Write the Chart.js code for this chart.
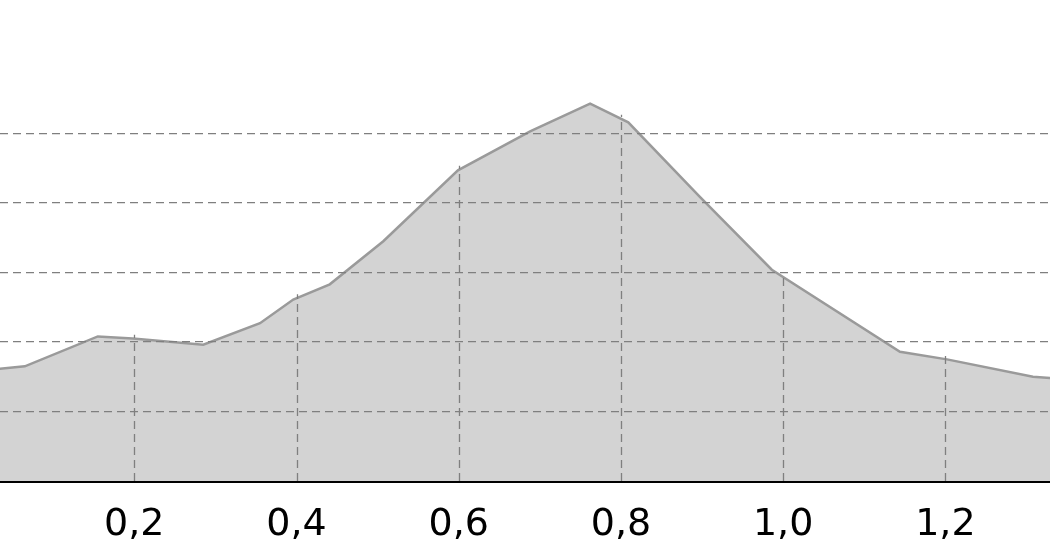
<!DOCTYPE html>
<html>
<head>
<meta charset="utf-8">
<script src="https://cdn.jsdelivr.net/npm/chart.js@4/dist/chart.umd.min.js"></script>
<style>
  body { margin: 0; background: #fff; }
  #wrap { width: 1050px; height: 560px; }
</style>
</head>
<body>
<div id="wrap"><canvas id="areaChart" width="1050" height="560"></canvas></div>
<script>
// curve
var xValues = [0.03, 0.065, 0.155, 0.198, 0.285, 0.355, 0.396, 0.441, 0.507, 0.599, 0.688, 0.762, 0.809, 0.897, 0.986, 1.144, 1.202, 1.308, 1.34];
var yValues = [1.61, 1.65, 2.08, 2.05, 1.96, 2.27, 2.61, 2.83, 3.45, 4.47, 5.03, 5.43, 5.16, 4.09, 3.04, 1.86, 1.75, 1.50, 1.47];

var xTicks = [0.2, 0.4, 0.6, 0.8, 1.0, 1.2];
var xTickLabels = ['0,2', '0,4', '0,6', '0,8', '1,0', '1,2'];
var yGridValues = [1, 2, 3, 4, 5];

var GRID_COLOR = '#7f7f7f';
var GRID_DASH = [8, 5];

// y value of the curve at x (straight segments between points)
function curveAt(x) {
  for (var i = 0; i < xValues.length - 1; i++) {
    if (x >= xValues[i] && x <= xValues[i + 1]) {
      var t = (x - xValues[i]) / (xValues[i + 1] - xValues[i]);
      return yValues[i] + t * (yValues[i + 1] - yValues[i]);
    }
  }
  return 0;
}

// vertical grid lines only run under the curve
var dropLines = {
  id: 'dropLines',
  afterDatasetsDraw: function(chart) {
    var ctx = chart.ctx;
    var xs = chart.scales.x, ys = chart.scales.y;
    ctx.save();
    ctx.strokeStyle = GRID_COLOR;
    ctx.lineWidth = 1.3;
    ctx.setLineDash(GRID_DASH);
    xTicks.forEach(function(v) {
      var px = Math.round(xs.getPixelForValue(v)) + 0.5;
      ctx.beginPath();
      ctx.moveTo(px, ys.getPixelForValue(0));
      ctx.lineTo(px, ys.getPixelForValue(curveAt(v)) - 4);
      ctx.stroke();
    });
    ctx.restore();
  }
};

var points = xValues.map(function(x, i) { return { x: x, y: yValues[i] }; });

var ctx = document.getElementById('areaChart').getContext('2d');
new Chart(ctx, {
  type: 'line',
  data: {
    datasets: [{
      data: points,
      fill: 'origin',
      backgroundColor: '#d3d3d3',
      borderColor: '#9a9a9a',
      borderWidth: 2.5,
      pointRadius: 0,
      tension: 0
    }]
  },
  options: {
    responsive: false,
    animation: false,
    layout: { padding: 0 },
    plugins: {
      legend: { display: false },
      tooltip: { enabled: false }
    },
    scales: {
      x: {
        type: 'linear',
        min: 0.0344,
        max: 1.329,
        afterBuildTicks: function(axis) {
          axis.ticks = xTicks.map(function(v) { return { value: v }; });
        },
        afterFit: function(axis) {
          axis.height = 79;
        },
        ticks: {
          autoSkip: false,
          maxRotation: 0,
          padding: 25,
          color: '#000',
          font: { family: 'DejaVu Sans', size: 38, lineHeight: 1 },
          callback: function(value) {
            var i = xTicks.indexOf(value);
            return i >= 0 ? xTickLabels[i] : '';
          }
        },
        grid: { display: false, drawTicks: false },
        border: { display: true, color: '#000', width: 3 }
      },
      y: {
        min: 0,
        max: 6.92,
        afterBuildTicks: function(axis) {
          axis.ticks = yGridValues.map(function(v) { return { value: v }; });
        },
        ticks: { display: false },
        grid: { color: GRID_COLOR, lineWidth: 1.3, drawTicks: false, z: 1 },
        border: { display: false, dash: GRID_DASH }
      }
    }
  },
  plugins: [dropLines]
});
</script>
</body>
</html>
